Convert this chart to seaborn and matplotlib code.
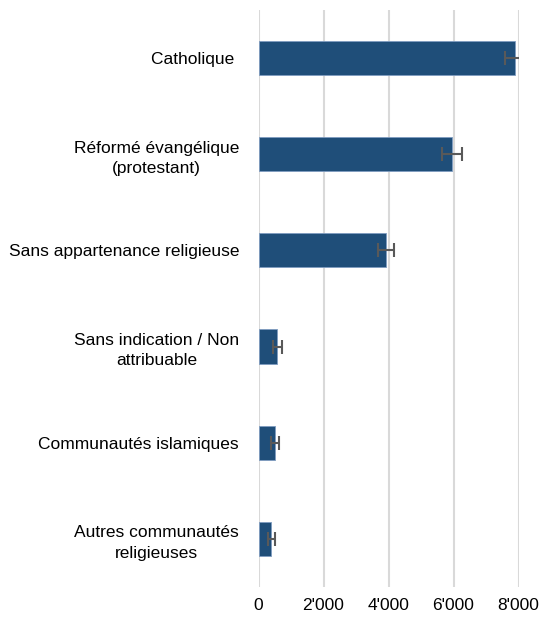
import numpy as np
import pandas as pd
import seaborn as sns
import matplotlib.pyplot as plt

categories = ['Catholique ', 'Réformé évangélique\n(protestant)', 'Sans appartenance religieuse',
              'Sans indication / Non\nattribuable', 'Communautés islamiques',
              'Autres communautés\nreligieuses']
values = [7890, 5960, 3920, 580, 510, 395]
errors = [300, 300, 240, 130, 125, 110]
x_ticks = [0, 2000, 4000, 6000, 8000]
x_ticklabels = ["0", "2'000", "4'000", "6'000", "8'000"]

df = pd.DataFrame({'cat': categories, 'val': values, 'err': errors})

sns.set_style('white')
plt.rcParams['font.family'] = ['Liberation Sans', 'DejaVu Sans']

fig = plt.figure(figsize=(5.42, 6.20), dpi=100)
ax = fig.add_axes([0.477, 0.0532, 0.4797, 0.9308])

sns.barplot(data=df, x='val', y='cat', orient='h', color='#1F4E79', saturation=1,
            width=0.355, edgecolor='#7F9CC0', linewidth=0.6, ax=ax, zorder=2)
eb = ax.errorbar(df['val'], np.arange(len(df)), xerr=df['err'], fmt='none',
                 ecolor='#595959', elinewidth=1.5, capsize=5, capthick=1.5, zorder=3)

ax.set_xlim(0, 8000)
ax.set_ylim(len(df) - 0.5, -0.5)
ax.set_xticks(x_ticks)
ax.set_xticklabels(x_ticklabels)
ax.set_xlabel('')
ax.set_ylabel('')
ax.xaxis.grid(True, color='#D9D9D9', linewidth=1.5, zorder=0)
ax.set_axisbelow(True)
for s in ax.spines.values():
    s.set_visible(False)
ax.tick_params(axis='y', length=0, pad=14, labelsize=12.5, labelcolor='#000000')
ax.tick_params(axis='x', length=0, pad=8, labelsize=12.5, labelcolor='#000000')
for t in ax.get_yticklabels():
    t.set_multialignment('center')
    t.set_linespacing(1.45)

fig.savefig('out.png', dpi=100)
